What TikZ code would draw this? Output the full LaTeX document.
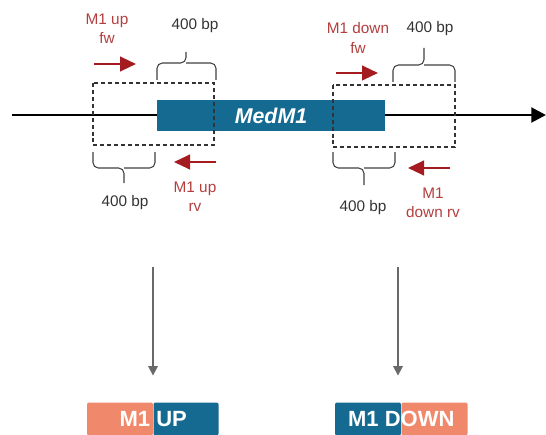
\documentclass[tikz,border=0pt]{standalone}
\usepackage{fontspec}
\setmainfont{Liberation Sans}
\usepackage{tikz}
\usetikzlibrary{arrows.meta}
\definecolor{genecol}{RGB}{21,106,145}
\definecolor{flankcol}{RGB}{240,137,108}
\definecolor{primercol}{RGB}{165,28,32}
\definecolor{labelcol}{RGB}{180,62,62}
\definecolor{flowcol}{RGB}{105,105,105}
\tikzset{
  bp/.style={font=\fontsize{11.5}{13}\selectfont, text=black!80},
  primertext/.style={font=\fontsize{11.5}{14.5}\selectfont, text=labelcol, align=center},
  primer/.style={draw=primercol, line width=1.6pt, -{Triangle[length=12pt,width=11pt]}},
  flank/.style={draw=black!80, line width=0.9pt, dash pattern=on 3pt off 2.2pt},
  bpbrace/.style={draw=black!75, line width=0.8pt, rounded corners=4pt},
  flow/.style={draw=flowcol, line width=1.3pt, -{Triangle[length=7pt,width=7pt]}},
  tagbox/.style={minimum height=24.75pt, inner sep=0pt, rounded corners=1.5pt},
  tagtext/.style={font=\fontsize{16.5}{18}\selectfont\bfseries, text=white}
}
\begin{document}
\begin{tikzpicture}[x=0.75pt,y=0.75pt,yscale=-1,xscale=1]
\useasboundingbox (0,0) rectangle (546,435);

% chromosome line and gene
\coordinate (linestart) at (12,115);
\coordinate (lineend) at (546,115);
\draw [line width=2.2pt, -{Triangle[length=11pt,width=11pt]}] (linestart) -- (lineend);
\node [fill=genecol, minimum width=171pt, minimum height=23.25pt, inner sep=0pt]
  (gene) at (271,115.5) {\fontsize{16}{18}\selectfont\bfseries\itshape\textcolor{white}{MedM1}};

% flanking regions
\draw [flank] (93,83) rectangle (214,145);
\draw [flank] (333,85) rectangle (455,147);

% braces
\draw [bpbrace] (157,80) |- (186,63) -- (186,52);
\draw [bpbrace] (216,80) |- (186,63);
\draw [bpbrace] (93,152) |- (124,168) -- (124,183);
\draw [bpbrace] (155,152) |- (124,168);
\draw [bpbrace] (393,82) |- (424,65) -- (424,48);
\draw [bpbrace] (455,82) |- (424,65);
\draw [bpbrace] (333,152) |- (364,168) -- (364,185);
\draw [bpbrace] (395,152) |- (364,168);

\node [bp] (bpupa) at (195,26) {400 bp};
\node [bp] (bpupb) at (125,203) {400 bp};
\node [bp] (bpdowna) at (430,29) {400 bp};
\node [bp] (bpdownb) at (363,208) {400 bp};

% primers
\coordinate (upfwa) at (94,64);
\coordinate (upfwb) at (136,64);
\coordinate (uprva) at (216,162);
\coordinate (uprvb) at (174,162);
\coordinate (downfwa) at (336,73);
\coordinate (downfwb) at (378,73);
\coordinate (downrva) at (450,168);
\coordinate (downrvb) at (408,168);
\draw [primer] (upfwa) -- (upfwb);
\draw [primer] (uprva) -- (uprvb);
\draw [primer] (downfwa) -- (downfwb);
\draw [primer] (downrva) -- (downrvb);

\node [primertext] (upfw) at (107,29) {M1 up\\fw};
\node [primertext] (uprv) at (195,197) {M1 up\\rv};
\node [primertext] (downfw) at (358,38) {M1 down\\fw};
\node [primertext] (downrv) at (433,203) {M1\\down rv};

% fused products
\node [tagbox, fill=flankcol, minimum width=49.5pt] (upleft) at (120,419) {};
\node [tagbox, fill=genecol, minimum width=48.75pt, anchor=west] (upright) at (upleft.east) {};
\node [tagtext] (uptext) at (upleft.east) {M1 UP};

\node [tagbox, fill=genecol, minimum width=49.5pt] (downleft) at (368,419) {};
\node [tagbox, fill=flankcol, minimum width=49.5pt, anchor=west] (downright) at (downleft.east) {};
\node [tagtext] (downtext) at (downleft.east) {M1 DOWN};

\coordinate (upsrc) at (153,267);
\coordinate (downsrc) at (398,267);
\draw [flow, shorten >=20pt] (upsrc) -- (upsrc |- upleft.north);
\draw [flow, shorten >=20pt] (downsrc) -- (downsrc |- downleft.north);

\end{tikzpicture}
\end{document}
